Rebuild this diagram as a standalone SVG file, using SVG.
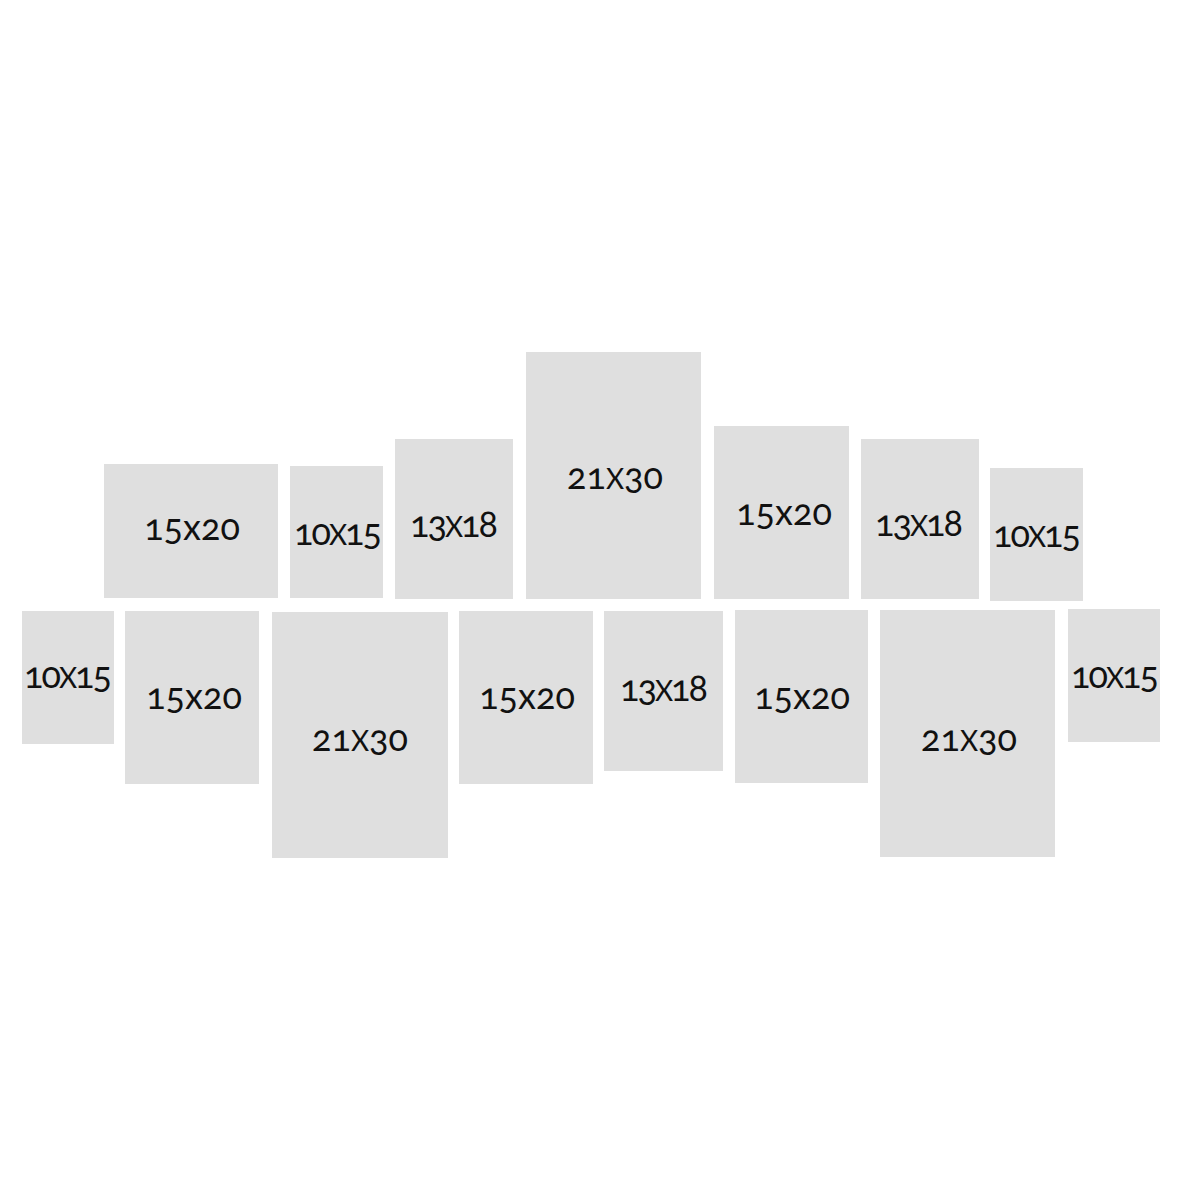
<svg xmlns="http://www.w3.org/2000/svg" width="1200" height="1200" viewBox="0 0 1200 1200">
<style>
.f{fill:#dfdfdf}
.t{font-family:Lato,"Open Sans","Noto Sans",sans-serif;font-size:36px;fill:#111;text-anchor:middle;font-variant-numeric:oldstyle-nums;font-feature-settings:"onum" 1}
.n{letter-spacing:-2px}
.x{font-size:28px}
</style>
<rect width="1200" height="1200" fill="#fff"/>
<g id="frames">
<g id="n1"><rect class="f" x="104" y="464" width="174" height="134"/><text class="t" x="192" y="540">15x20</text></g>
<g id="n2"><rect class="f" x="290" y="466" width="93" height="132"/><text class="t n" x="337" y="545">10<tspan class="x">X</tspan>15</text></g>
<g id="n3"><rect class="f" x="395" y="439" width="118" height="160"/><text class="t n" x="453" y="537">13<tspan class="x">X</tspan>18</text></g>
<g id="n4"><rect class="f" x="526" y="352" width="175" height="247"/><text class="t" x="615" y="489">21<tspan class="x">X</tspan>30</text></g>
<g id="n5"><rect class="f" x="714" y="426" width="135" height="173"/><text class="t" x="784" y="525">15x20</text></g>
<g id="n6"><rect class="f" x="861" y="439" width="118" height="160"/><text class="t n" x="918" y="536">13<tspan class="x">X</tspan>18</text></g>
<g id="n7"><rect class="f" x="990" y="468" width="93" height="133"/><text class="t n" x="1036" y="547">10<tspan class="x">X</tspan>15</text></g>
<g id="n8"><rect class="f" x="22" y="611" width="92" height="133"/><text class="t n" x="67" y="688">10<tspan class="x">X</tspan>15</text></g>
<g id="n9"><rect class="f" x="125" y="611" width="134" height="173"/><text class="t" x="194" y="709">15x20</text></g>
<g id="n10"><rect class="f" x="272" y="612" width="176" height="246"/><text class="t" x="360" y="751">21<tspan class="x">X</tspan>30</text></g>
<g id="n11"><rect class="f" x="459" y="611" width="134" height="173"/><text class="t" x="527" y="709">15x20</text></g>
<g id="n12"><rect class="f" x="604" y="611" width="119" height="160"/><text class="t n" x="663" y="701">13<tspan class="x">X</tspan>18</text></g>
<g id="n13"><rect class="f" x="735" y="610" width="133" height="173"/><text class="t" x="802" y="709">15x20</text></g>
<g id="n14"><rect class="f" x="880" y="610" width="175" height="247"/><text class="t" x="969" y="751">21<tspan class="x">X</tspan>30</text></g>
<g id="n15"><rect class="f" x="1068" y="609" width="92" height="133"/><text class="t n" x="1114" y="688">10<tspan class="x">X</tspan>15</text></g>
</g>
<g id="connectors"/>
</svg>
